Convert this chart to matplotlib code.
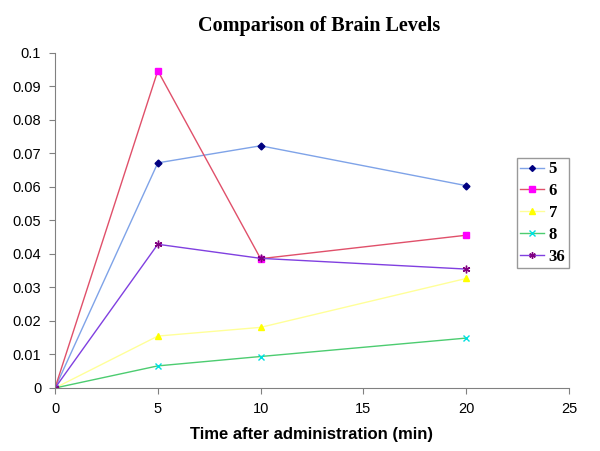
import numpy as np
from matplotlib import pyplot as plt

time_min = [0, 5, 10, 20]
labels = ['5', '6', '7', '8', '36']
level_5 = [0.0, 0.0672, 0.0723, 0.0604]
level_6 = [0.0, 0.0947, 0.0386, 0.0456]
level_7 = [0.0, 0.0155, 0.0181, 0.0327]
level_8 = [0.0, 0.0066, 0.0094, 0.0149]
level_36 = [0.0, 0.0429, 0.0387, 0.0355]

series = [level_5, level_6, level_7, level_8, level_36]
line_colors = ['#7fa3e8', '#e0506a', '#ffff99', '#4ccc70', '#8040e0']
marker_colors = ['#000080', '#ff00ff', '#ffff00', '#00e0e0', '#800080']
markers = ['D', 's', '^', 'x', (6, 2, 0)]
marker_sizes = [3.5, 4.5, 4.5, 4.5, 5.5]

fig = plt.figure(figsize=(6, 4.51), dpi=100)
ax = fig.add_axes([0.0917, 0.1397, 0.8566, 0.7428])

for vals, lab, lc, mc, mk, ms in zip(series, labels, line_colors, marker_colors, markers, marker_sizes):
    ax.plot(time_min, vals, color=lc, lw=1.0, marker=mk, markersize=ms,
            markerfacecolor=mc, markeredgecolor=mc, markeredgewidth=1.0, label=lab)

ax.set_xlim(0, 25)
ax.set_ylim(0, 0.1)
ax.set_xticks([0, 5, 10, 15, 20, 25])
ax.set_yticks(np.arange(0, 0.101, 0.01))
ax.set_yticklabels(['0', '0.01', '0.02', '0.03', '0.04', '0.05', '0.06', '0.07', '0.08', '0.09', '0.1'])
ax.spines['top'].set_visible(False)
ax.spines['right'].set_visible(False)
for s in ['left', 'bottom']:
    ax.spines[s].set_color('#808080')
ax.tick_params(direction='out', length=4, color='#808080', labelsize=10.5, pad=6)
for t in ax.get_xticklabels() + ax.get_yticklabels():
    t.set_fontfamily('Liberation Sans')

ax.set_xlabel('Time after administration (min)', fontsize=12, fontweight='bold',
              fontfamily='Liberation Sans', labelpad=8)
fig.suptitle('Comparison of Brain Levels', x=0.532, y=0.965, fontsize=14.5, fontweight='bold',
             fontfamily='Liberation Serif')

leg = ax.legend(loc='upper left', bbox_to_anchor=(517 / 600, 1 - 158 / 451),
                bbox_transform=fig.transFigure, frameon=True, fancybox=False,
                prop={'family': 'Liberation Serif', 'weight': 'bold', 'size': 12},
                handlelength=1.4, handletextpad=0.3, borderpad=0.2, labelspacing=0.35,
                borderaxespad=0, markerscale=0.85)
leg.get_frame().set_edgecolor('#808080')
leg.get_frame().set_linewidth(1.0)

fig.savefig('out.png', dpi=100)
